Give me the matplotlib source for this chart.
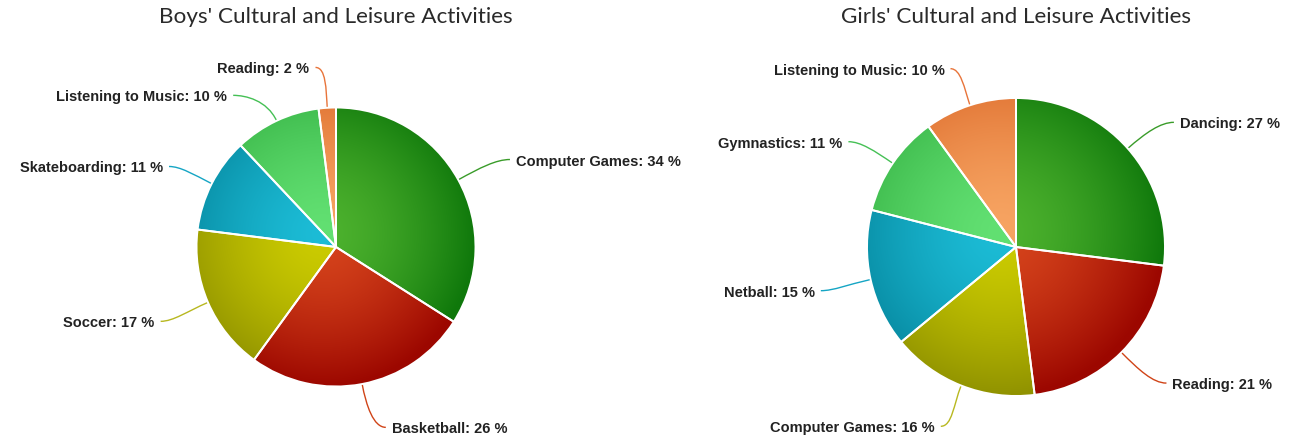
import matplotlib
matplotlib.use("Agg")
import matplotlib.pyplot as plt
import numpy as np
from matplotlib.colors import to_rgb
from matplotlib.path import Path
from matplotlib.patches import PathPatch

# data
boys_labels = ["Computer Games", "Basketball", "Soccer", "Skateboarding",
               "Listening to Music", "Reading"]
boys_values = [34, 26, 17, 11, 10, 2]

girls_labels = ["Dancing", "Reading", "Computer Games", "Netball",
                "Gymnastics", "Listening to Music"]
girls_values = [27, 21, 16, 15, 11, 10]

# slice colours: (centre, rim, connector)
green = ("#4db22e", "#0f780b", "#3a9c2a")
red = ("#d6441c", "#9c0700", "#d04418")
yellow = ("#cccc00", "#909200", "#b8b820")
blue = ("#1cbcd6", "#06879e", "#15a5c4")
lgreen = ("#62e072", "#38b446", "#45c055")
orange = ("#f7a462", "#de6e2e", "#e8743a")

boys_colors = [green, red, yellow, blue, lgreen, orange]
girls_colors = [green, red, yellow, blue, lgreen, orange]

# label anchor offsets from pie centre, in radius units (layout only)
boys_label_pos = [(1.29, 0.62), (0.40, -1.30), (-1.30, -0.54),
                  (-1.24, 0.57), (-0.78, 1.08), (-0.19, 1.28)]
boys_label_side = ["left", "left", "right", "right", "right", "right"]
girls_label_pos = [(1.10, 0.83), (1.05, -0.92), (-0.545, -1.21),
                   (-1.35, -0.30), (-1.165, 0.70), (-0.48, 1.19)]
girls_label_side = ["left", "left", "right", "right", "right", "right"]

W, H = 1307, 439
fig = plt.figure(figsize=(W / 100, H / 100), dpi=100)
ax = fig.add_axes([0, 0, 1, 1])


def draw_pie(ax, values, labels, colors, label_pos, sides, center, R, title):
    cx, cy = center
    wedges, _ = ax.pie(values, startangle=90, counterclock=False,
                       center=center, radius=R,
                       wedgeprops=dict(facecolor="none", edgecolor="white",
                                       linewidth=1.4, zorder=3))
    n = 300
    xs = np.linspace(-1, 1, n)
    gx, gy = np.meshgrid(xs, xs)
    # radial gradient, focus nudged up-left
    r = np.clip(np.sqrt((gx + 0.1) ** 2 + (gy - 0.1) ** 2) / 1.1, 0, 1)
    total = float(sum(values))
    cum = 0.0
    for w, v, lab, col, pos, side in zip(wedges, values, labels, colors,
                                         label_pos, sides):
        c0 = np.array(to_rgb(col[0]))
        c1 = np.array(to_rgb(col[1]))
        t = r[..., None] ** 1.5
        img = c0 * (1 - t) + c1 * t
        im = ax.imshow(img, extent=[cx - R, cx + R, cy - R, cy + R],
                       origin="lower", zorder=2, interpolation="bilinear")
        im.set_clip_path(w)

        # connector
        mid = (cum + v / 2) / total * 2 * np.pi
        cum += v
        ux, uy = np.sin(mid), np.cos(mid)
        p0 = (cx + R * ux, cy + R * uy)
        tx, ty = cx + pos[0] * R, cy + pos[1] * R
        sgn = 1 if side == "left" else -1
        p3 = (tx - sgn * 6, ty + 1)
        d = np.hypot(p3[0] - p0[0], p3[1] - p0[1])
        p1 = (p0[0] + ux * d * 0.45, p0[1] + uy * d * 0.45)
        p2 = (p3[0] - sgn * d * 0.25, p3[1])
        path = Path([p0, p1, p2, p3],
                    [Path.MOVETO, Path.CURVE4, Path.CURVE4, Path.CURVE4])
        ax.add_patch(PathPatch(path, facecolor="none", edgecolor=col[2],
                               linewidth=1.0, zorder=1))
        ax.text(tx, ty, "%s: %d %%" % (lab, v), ha=side, va="center",
                fontsize=10.5, fontweight="bold", color="#222222",
                family="Liberation Sans", zorder=4)

    ax.text(cx, H - 17, title, ha="center", va="center", fontsize=16.2,
            family="Lato", fontweight="normal", color="#2a2a2a")


draw_pie(ax, boys_values, boys_labels, boys_colors, boys_label_pos,
         boys_label_side, (336, H - 248), 139.5,
         "Boys' Cultural and Leisure Activities")
draw_pie(ax, girls_values, girls_labels, girls_colors, girls_label_pos,
         girls_label_side, (1016, H - 248), 149,
         "Girls' Cultural and Leisure Activities")

ax.set_xlim(0, W)
ax.set_ylim(0, H)
ax.set_aspect("equal")
ax.axis("off")

fig.savefig("out.png", dpi=100, facecolor="white")
